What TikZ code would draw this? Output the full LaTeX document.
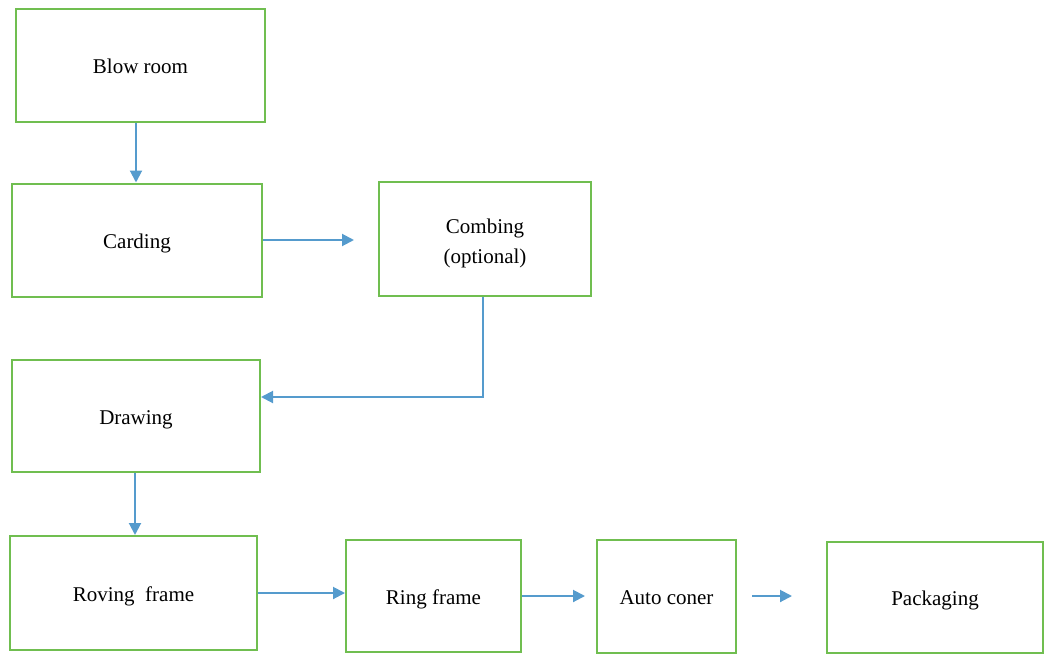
\documentclass[tikz,border=0pt]{standalone}
\usepackage{fontspec}
\setmainfont{Liberation Serif}
\usetikzlibrary{arrows.meta}
\definecolor{boxgreen}{RGB}{112,190,80}
\definecolor{arrowblue}{RGB}{85,155,205}
\begin{document}
\begin{tikzpicture}[x=1pt,y=-1pt,
  stepbox/.style={draw=boxgreen,line width=2pt,rectangle,inner sep=0pt,
    font=\fontsize{21}{25}\selectfont,align=center},
  oneline/.style={text height=20pt,text depth=4pt},
  flow/.style={draw=arrowblue,line width=2pt,-{Triangle[length=12pt,width=12pt]}}]
\useasboundingbox (0,0) rectangle (1045,654);
\node[stepbox,oneline,minimum width=249pt,minimum height=113pt] (blow) at (140.5,65.5) {Blow room};
\node[stepbox,oneline,minimum width=250pt,minimum height=113pt] (card) at (137,240) {Carding};
\node[stepbox,minimum width=212pt,minimum height=114pt] (comb) at (485,239) {};
\node[font=\fontsize{21}{25}\selectfont,align=center] (combt) at (485,243) {Combing\\[5pt](optional)};
\node[stepbox,oneline,minimum width=248pt,minimum height=112pt] (draw) at (136,416) {Drawing};
\node[stepbox,oneline,minimum width=247pt,minimum height=114pt] (rov) at (133.5,593) {Roving\ \ frame};
\node[stepbox,oneline,minimum width=175pt,minimum height=112pt] (ring) at (433.5,596) {Ring frame};
\node[stepbox,oneline,minimum width=139pt,minimum height=113pt] (auto) at (666.5,596) {Auto coner};
\node[stepbox,oneline,minimum width=216pt,minimum height=111pt] (pack) at (935,597.5) {Packaging};
\coordinate (bend) at (483,397);
\draw[flow] (blow.south -| 136,0) -- (card.north -| 136,0);
\draw[flow,shorten >=24pt] (card.east) -- (comb.west |- card.east);
\draw[flow] (comb.south -| bend) -- (bend) -- (bend -| draw.east);
\draw[flow] (draw.south -| 135,0) -- (rov.north -| 135,0);
\draw[flow] (rov.east |- 0,593) -- (ring.west |- 0,593);
\draw[flow,shorten >=11pt] (ring.east) -- (auto.west);
\draw[flow,shorten <=15pt,shorten >=34pt] (auto.east) -- (pack.west |- auto.east);
\end{tikzpicture}
\end{document}
